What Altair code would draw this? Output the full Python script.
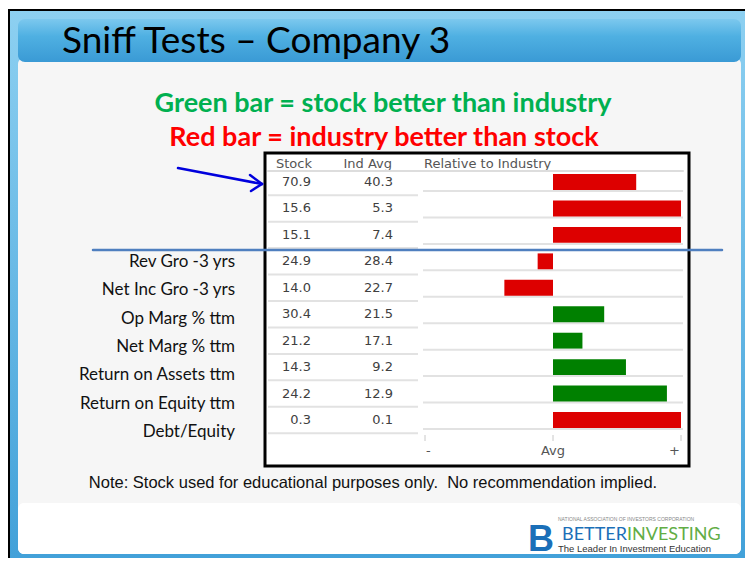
import altair as alt
import pandas as pd

# ---------------- data ----------------
stock_vals = ["70.9", "15.6", "15.1", "24.9", "14.0", "30.4", "21.2", "14.3", "24.2", "0.3"]
ind_avg_vals = ["40.3", "5.3", "7.4", "28.4", "22.7", "21.5", "17.1", "9.2", "12.9", "0.1"]
relative = [0.65, 1.0, 1.0, -0.12, -0.38, 0.40, 0.23, 0.57, 0.89, 1.0]
stock_better = [False, False, False, False, False, True, True, True, True, False]
metric_labels = ["Rev Gro -3 yrs", "Net Inc Gro -3 yrs", "Op Marg % ttm", "Net Marg % ttm",
                 "Return on Assets ttm", "Return on Equity ttm", "Debt/Equity"]
axis_ticks = [-1, 0, 1]
axis_tick_labels = ["-", "Avg", "+"]

rows = pd.DataFrame({
    "row": list(range(len(stock_vals))),
    "stock": stock_vals,
    "ind": ind_avg_vals,
    "rel": relative,
    "better": ["stock" if b else "industry" for b in stock_better],
})
rows["mid"] = rows["row"] + 0.5
rows["b0"] = rows["row"] + 0.2
rows["b1"] = rows["row"] + 0.8
rows["sepR"] = rows["row"] + 0.84
rows["sepL"] = rows["row"] + 1.0
rows["zero"] = 0.0

labels = pd.DataFrame({"slot": [i + 0.5 for i in range(len(metric_labels))], "label": metric_labels})
ticks = pd.DataFrame({"t": axis_ticks, "lab": axis_tick_labels})

W, H = 737, 550
O = 8  # page margin offset


def P(v):
    return v - O


one = pd.DataFrame({"a": [0]})


def rect(x1, y1, x2, y2, **kw):
    return alt.Chart(one).mark_rect(**kw).encode(
        x=alt.value(P(x1)), x2=alt.value(P(x2)), y=alt.value(P(y1)), y2=alt.value(P(y2)))


def line(x1, y1, x2, y2, color, width):
    return alt.Chart(one).mark_rule(color=color, strokeWidth=width, strokeCap="round").encode(
        x=alt.value(P(x1)), x2=alt.value(P(x2)), y=alt.value(P(y1)), y2=alt.value(P(y2)))


def txt(s, x, y, **kw):
    return alt.Chart(one).mark_text(text=s, **kw).encode(x=alt.value(P(x)), y=alt.value(P(y)))


grad_frame = alt.LinearGradient(gradient="linear", x1=0, x2=0, y1=0, y2=1,
                                stops=[alt.GradientStop(color="#8dd0f1", offset=0),
                                       alt.GradientStop(color="#3f9fd8", offset=1)])
grad_title = alt.LinearGradient(gradient="linear", x1=0, x2=0, y1=0, y2=1,
                                stops=[alt.GradientStop(color="#7cc8ee", offset=0),
                                       alt.GradientStop(color="#4fb0e2", offset=0.4),
                                       alt.GradientStop(color="#3a9ad5", offset=1)])

RIGHT = 741
BOTTOM = 554

layers = []
# slide frame
layers.append(rect(8, 9, 760, 580, color="black"))
layers.append(rect(10, 11, 760, 580, color=grad_frame))
layers.append(rect(18, 58, RIGHT, BOTTOM, color="#f6f6f6", cornerRadius=6))
layers.append(rect(18, 503, RIGHT, BOTTOM, color="#ffffff", cornerRadius=6))
layers.append(rect(18, 19, RIGHT, 62, color=grad_title, cornerRadius=7))
layers.append(txt("Sniff Tests \u2013 Company 3", 62, 53, font="Lato", fontSize=37,
                  align="left", baseline="alphabetic", color="black"))
layers.append(txt("Green bar = stock better than industry", 383, 112, font="Lato", fontSize=27,
                  fontWeight="bold", align="center", baseline="alphabetic", color="#00b050"))
layers.append(txt("Red bar = industry better than stock", 384, 146, font="Lato", fontSize=27,
                  fontWeight="bold", align="center", baseline="alphabetic", color="#ff0000"))

# table box background
layers.append(rect(265, 153, 689, 466, color="white"))

# header
hdr = dict(font="DejaVu Sans", fontSize=13, color="#555555", baseline="alphabetic")
layers.append(txt("Stock", 312, 168, align="right", **hdr))
layers.append(txt("Ind Avg", 392, 168, align="right", **hdr))
layers.append(txt("Relative to Industry", 424, 168, align="left", **hdr))
layers.append(line(268, 171, 683, 171, "#dddddd", 2))

yrow = alt.Scale(domain=[0, 10], range=[P(168.8), P(433.2)], zero=False, nice=False)
xrel = alt.Scale(domain=[-1, 1], range=[P(425), P(681)], zero=False, nice=False)

base = alt.Chart(rows)
layers.append(base.mark_rule(color="#e2e2e2", strokeWidth=2).encode(
    y=alt.Y("sepR:Q", scale=yrow, axis=None), x=alt.value(P(423)), x2=alt.value(P(683))))
layers.append(base.mark_rule(color="#e2e2e2", strokeWidth=2).encode(
    y=alt.Y("sepL:Q", scale=yrow, axis=None), x=alt.value(P(268)), x2=alt.value(P(418))))
layers.append(base.mark_rect().encode(
    y=alt.Y("b0:Q", scale=yrow, axis=None), y2="b1:Q",
    x=alt.X("zero:Q", scale=xrel, axis=None), x2="rel:Q",
    color=alt.Color("better:N", scale=alt.Scale(domain=["stock", "industry"],
                                                range=["#008000", "#dd0000"]), legend=None)))
num = dict(font="DejaVu Sans", fontSize=13, color="#404040", align="right", baseline="middle")
layers.append(base.mark_text(**num).encode(
    y=alt.Y("mid:Q", scale=yrow, axis=None), x=alt.value(P(311)), text="stock:N"))
layers.append(base.mark_text(**num).encode(
    y=alt.Y("mid:Q", scale=yrow, axis=None), x=alt.value(P(393)), text="ind:N"))

# bottom axis
tk = alt.Chart(ticks)
layers.append(tk.mark_rule(color="#c8c8c8", strokeWidth=1).encode(
    x=alt.X("t:Q", scale=xrel, axis=None), y=alt.value(P(435)), y2=alt.value(P(441))))
tl = dict(font="DejaVu Sans", fontSize=13, color="#555555", baseline="middle")
layers.append(tk.transform_filter("datum.t < 0").mark_text(align="left", dx=1, **tl).encode(
    x=alt.X("t:Q", scale=xrel, axis=None), y=alt.value(P(451)), text="lab:N"))
layers.append(tk.transform_filter("datum.t == 0").mark_text(align="center", **tl).encode(
    x=alt.X("t:Q", scale=xrel, axis=None), y=alt.value(P(451)), text="lab:N"))
layers.append(tk.transform_filter("datum.t > 0").mark_text(align="right", dx=-1, **tl).encode(
    x=alt.X("t:Q", scale=xrel, axis=None), y=alt.value(P(451)), text="lab:N"))

# table border
layers.append(rect(265, 153, 689, 466, filled=False, stroke="black", strokeWidth=3))

# metric labels on the left
yslot = alt.Scale(domain=[0, 7], range=[P(247.8), P(446.2)], zero=False, nice=False)
layers.append(alt.Chart(labels).mark_text(font="Lato", fontSize=17, color="#111111",
                                          align="right", baseline="middle").encode(
    y=alt.Y("slot:Q", scale=yslot, axis=None), x=alt.value(P(235)), text="label:N"))

# blue divider line and arrow
layers.append(line(93, 250, 722, 250, "#4f7fbf", 2.5))
layers.append(line(178, 168, 262, 184, "#0000dd", 2.5))
layers.append(line(262, 184, 250, 175, "#0000dd", 2.5))
layers.append(line(262, 184, 251, 191, "#0000dd", 2.5))

# note
layers.append(txt("Note: Stock used for educational purposes only.\u00a0 No recommendation implied.",
                  373, 488, font="Liberation Sans", fontSize=16.5, align="center",
                  baseline="alphabetic", color="#111111"))

# logo
layers.append(txt("B", 541, 551, font="Liberation Sans", fontSize=36, fontWeight="bold",
                  align="center", baseline="alphabetic", color="#1b6fb8"))
layers.append(txt("NATIONAL ASSOCIATION OF INVESTORS CORPORATION", 558, 521, font="Liberation Sans",
                  fontSize=5, align="left", baseline="alphabetic", color="#888888"))
layers.append(txt("BETTER", 627, 540, font="Lato", fontSize=18, align="right",
                  baseline="alphabetic", color="#1b6fb8"))
layers.append(txt("INVESTING", 627, 540, font="Lato", fontSize=18, align="left",
                  baseline="alphabetic", color="#62ad45"))
layers.append(txt("The Leader In Investment Education", 558, 552, font="Liberation Sans",
                  fontSize=9.5, align="left", baseline="alphabetic", color="#333333"))

chart = alt.layer(*layers).resolve_scale(y="independent").properties(
    width=W, height=H, padding=0, autosize=alt.AutoSizeParams(type="none"),
    background="white"
).configure_view(stroke=None)

chart.save("out.html", embed_options={"renderer": "svg", "actions": False})
